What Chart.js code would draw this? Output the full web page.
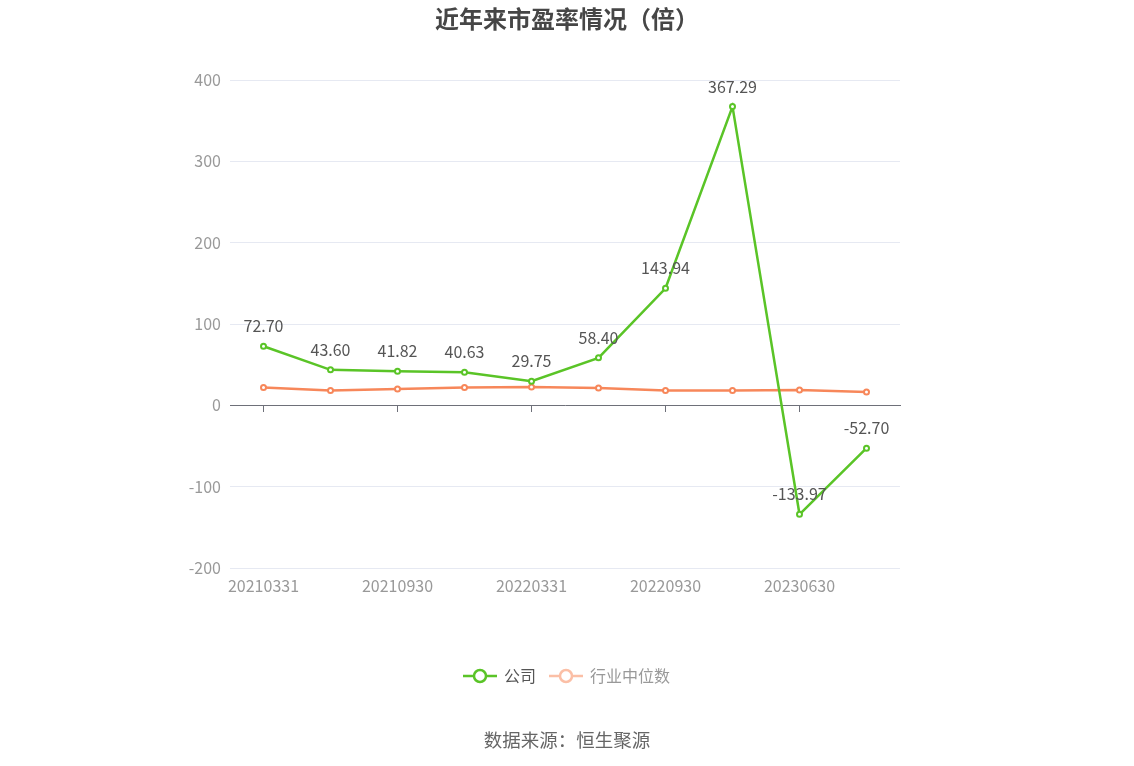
<!DOCTYPE html>
<html>
<head>
<meta charset="utf-8">
<script src="https://cdn.jsdelivr.net/npm/chart.js@4"></script>
<style>
  html, body { margin: 0; padding: 0; background: #fff; }
  #wrap { position: relative; width: 1134px; height: 766px; font-family: "Noto Sans CJK SC", "Noto Sans", sans-serif; }
  #title { position: absolute; top: 0px; left: 0; width: 1134px; text-align: center; font-size: 24px; font-weight: bold; color: #464646; }
  #source { position: absolute; top: 726px; left: 0; width: 1134px; text-align: center; font-size: 18.5px; color: #666; }
  canvas { position: absolute; left: 0; top: 0; }
</style>
</head>
<body>
<div id="wrap">
  <canvas id="peChart" width="1134" height="766"></canvas>
  <div id="title">近年来市盈率情况（倍）</div>
  <div id="source">数据来源：恒生聚源</div>
</div>
<script>
// 报告期
const periods = ['20210331', '20210630', '20210930', '20211231', '20220331', '20220630', '20220930', '20221231', '20230630', '20230930'];
// 公司市盈率
const companyPE = [72.70, 43.60, 41.82, 40.63, 29.75, 58.40, 143.94, 367.29, -133.97, -52.70];
// 行业中位数
const industryPE = [21.8, 18.1, 20.2, 21.8, 22.6, 21.4, 18.1, 18.2, 18.9, 16.5];
const yTicks = [-200, -100, 0, 100, 200, 300, 400];

const green = '#5ac427';
const orange = '#f7875a';

Chart.defaults.font.family = '"Noto Sans CJK SC", "Noto Sans", sans-serif';

function legendIcon(color) {
    const c = document.createElement('canvas');
    c.width = 34; c.height = 16;
    const g = c.getContext('2d');
    g.strokeStyle = color;
    g.lineWidth = 2.5;
    g.beginPath(); g.moveTo(0, 8); g.lineTo(34, 8); g.stroke();
    g.fillStyle = '#fff';
    g.beginPath(); g.arc(17, 8, 6, 0, Math.PI * 2); g.fill(); g.stroke();
    return c;
}

// 数值标签
const valueLabels = {
    id: 'valueLabels',
    afterDatasetsDraw(chart) {
        const ctx = chart.ctx;
        const meta = chart.getDatasetMeta(0);
        ctx.save();
        ctx.font = '16px "Noto Sans CJK SC", "Noto Sans", sans-serif';
        ctx.fillStyle = '#555';
        ctx.textAlign = 'center';
        ctx.textBaseline = 'middle';
        meta.data.forEach((pt, i) => {
            ctx.fillText(companyPE[i].toFixed(2), pt.x, pt.y - 20);
        });
        ctx.restore();
    }
};

new Chart(document.getElementById('peChart').getContext('2d'), {
    type: 'line',
    data: {
        labels: periods,
        datasets: [
            { label: '公司', data: companyPE, borderColor: green, backgroundColor: '#fff', borderWidth: 2.5,
              pointRadius: 2.5, pointBorderWidth: 2, pointBackgroundColor: '#fff', tension: 0, xAxisID: 'x' },
            { label: '行业中位数', data: industryPE, borderColor: orange, backgroundColor: '#fff', borderWidth: 2.5,
              pointRadius: 2.5, pointBorderWidth: 2, pointBackgroundColor: '#fff', tension: 0, xAxisID: 'x' }
        ]
    },
    options: {
        responsive: false,
        animation: false,
        layout: { padding: { top: 80, right: 0, bottom: 72, left: 0 } },
        plugins: {
            title: { display: false },
            tooltip: { enabled: false },
            legend: {
                position: 'bottom',
                labels: {
                    usePointStyle: true,
                    pointStyleWidth: 32,
                    padding: 14,
                    font: { size: 16 },
                    generateLabels: (chart) => [
                        { text: '公司', pointStyle: legendIcon(green), fontColor: '#555', strokeStyle: green, fillStyle: '#fff', lineWidth: 0, datasetIndex: 0 },
                        { text: '行业中位数', pointStyle: legendIcon('#fbbfa6'), fontColor: '#999', strokeStyle: '#fbbfa6', fillStyle: '#fff', lineWidth: 0, datasetIndex: 1 }
                    ]
                }
            }
        },
        scales: {
            x: {
                type: 'category',
                offset: true,
                grid: { display: false },
                border: { display: false },
                ticks: { color: '#999', font: { size: 16 }, maxRotation: 0, autoSkip: true, maxTicksLimit: 5, padding: 0 },
                afterFit: (s) => { s.height = 86; }
            },
            xz: {
                type: 'category',
                labels: periods,
                offset: true,
                position: { y: 0 },
                grid: { drawOnChartArea: false, drawTicks: true, tickLength: 6, color: '#6e7079', lineWidth: 1 },
                border: { display: true, color: '#6e7079', width: 1 },
                ticks: { color: 'rgba(0,0,0,0)', font: { size: 1 }, maxRotation: 0, autoSkip: true, maxTicksLimit: 5 }
            },
            y: {
                min: -200,
                max: 400,
                afterBuildTicks: (s) => { s.ticks = yTicks.map(v => ({ value: v })); },
                grid: { color: '#e6e9f2', drawTicks: false, lineWidth: 1 },
                border: { display: false },
                ticks: { color: '#999', font: { size: 16 }, padding: 9 },
                afterFit: (s) => { s.width = 230; }
            },
            // 右侧留白
            yr: {
                position: 'right',
                grid: { drawOnChartArea: false, drawTicks: false },
                border: { display: false },
                ticks: { display: false },
                afterFit: (s) => { s.width = 234; }
            }
        }
    },
    plugins: [valueLabels]
});
</script>
</body>
</html>
